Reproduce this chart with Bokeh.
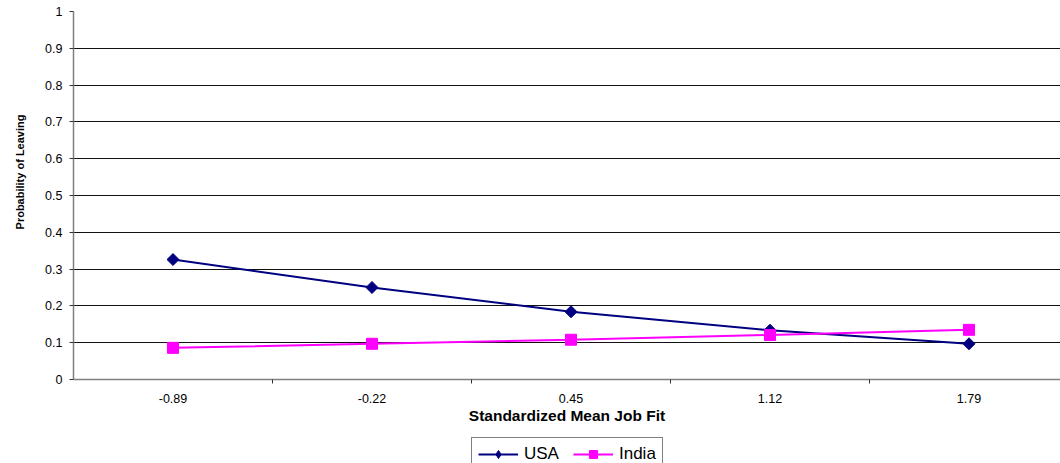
import math
from bokeh.plotting import figure
from bokeh.models import Range1d, FixedTicker, Label, Legend
from bokeh.layouts import row, column
from bokeh.embed import file_html
from bokeh.resources import INLINE

categories = ["-0.89", "-0.22", "0.45", "1.12", "1.79"]
usa = [0.326, 0.250, 0.184, 0.134, 0.097]
india = [0.086, 0.097, 0.108, 0.121, 0.135]
y_ticks = [0, 0.1, 0.2, 0.3, 0.4, 0.5, 0.6, 0.7, 0.8, 0.9, 1]
x_title = "Standardized Mean Job Fit"
y_title = "Probability of Leaving"
series_names = ["USA", "India"]
series_colors = ["#000080", "#FF00FF"]

FONT = "Liberation Sans"
W, H = 1060, 463
TITLE_W = 40          # strip holding the y-axis title
LEG_H = 28            # strip holding the legend
MAIN_W, MAIN_H = W - TITLE_W, H - LEG_H
LEFT, TOP = 33, 11
BOTTOM = MAIN_H - 379
cat_px = 199.0
frame_w = MAIN_W - LEFT

xs = [i + 0.5 for i in range(len(categories))]

p = figure(width=MAIN_W, height=MAIN_H, output_backend="svg", toolbar_location=None,
           x_range=Range1d(0, frame_w / cat_px), y_range=Range1d(0, 1),
           min_border_left=LEFT, min_border_top=TOP, min_border_bottom=BOTTOM,
           min_border_right=0)
p.outline_line_color = None
p.background_fill_color = "white"
p.border_fill_color = "white"

# axes
p.xaxis.ticker = FixedTicker(ticks=xs, minor_ticks=[1, 2, 3, 4])
p.xaxis.major_label_overrides = {x: c for x, c in zip(xs, categories)}
p.xaxis.major_tick_out = 0
p.xaxis.major_tick_in = 0
p.xaxis.minor_tick_out = 4
p.xaxis.minor_tick_in = 0
p.xaxis.minor_tick_line_color = "#333333"
p.xaxis.axis_line_color = "#808080"
p.xaxis.axis_line_width = 1.5
p.xaxis.major_label_standoff = 10
p.xaxis.major_label_text_font = FONT
p.xaxis.major_label_text_font_size = "12.5px"
p.xaxis.major_label_text_color = "black"
p.xaxis.axis_label = x_title
p.xaxis.axis_label_text_font = FONT
p.xaxis.axis_label_text_font_style = "bold"
p.xaxis.axis_label_text_font_size = "15.5px"
p.xaxis.axis_label_text_color = "black"
p.xaxis.axis_label_standoff = 1

p.yaxis.ticker = FixedTicker(ticks=y_ticks)
p.yaxis.major_label_overrides = {0: "0", 1: "1"}
p.yaxis.major_tick_out = 4
p.yaxis.major_tick_in = 0
p.yaxis.minor_tick_line_color = None
p.yaxis.major_tick_line_color = "#333333"
p.yaxis.axis_line_color = "#808080"
p.yaxis.axis_line_width = 1.5
p.yaxis.major_label_standoff = 7
p.yaxis.major_label_text_font = FONT
p.yaxis.major_label_text_font_size = "12.5px"
p.yaxis.major_label_text_color = "black"

p.xgrid.grid_line_color = None
p.ygrid.grid_line_color = "#111111"
p.ygrid.grid_line_width = 1

# series
l1 = p.line(xs, usa, line_color=series_colors[0], line_width=2)
m1 = p.scatter(xs, usa, marker="square", angle=math.pi / 4, size=8.5,
               fill_color=series_colors[0], line_color=series_colors[0])
l2 = p.line(xs, india, line_color=series_colors[1], line_width=2)
m2 = p.scatter(xs, india, marker="square", size=11,
               fill_color=series_colors[1], line_color=series_colors[1])


def blank(width, height):
    f = figure(width=width, height=height, output_backend="svg", toolbar_location=None,
               x_range=Range1d(0, 1), y_range=Range1d(0, 1),
               min_border=0, x_axis_location=None, y_axis_location=None)
    f.outline_line_color = None
    f.xgrid.grid_line_color = None
    f.ygrid.grid_line_color = None
    f.background_fill_color = "white"
    f.border_fill_color = "white"
    return f


# y-axis title strip
tfig = blank(TITLE_W, MAIN_H)
tfig.add_layout(Label(x=19, y=MAIN_H - 172.5 - 55, x_units="screen", y_units="screen",
                      text=y_title, angle=math.pi / 2,
                      text_align="center", text_baseline="middle",
                      text_font=FONT, text_font_style="bold", text_font_size="11px",
                      text_color="black"))

# legend strip (legend glyphs come from proxy renderers, with the same styles,
# whose points lie outside the strip's ranges)
lfig = blank(W, LEG_H)
off = [-10.0, -9.0]
pl1 = lfig.line(x=off, y=off, line_color=series_colors[0], line_width=2)
pm1 = lfig.scatter(x=off, y=off, marker="diamond", size=10,
                   fill_color=series_colors[0], line_color=series_colors[0])
pl2 = lfig.line(x=off, y=off, line_color=series_colors[1], line_width=2)
pm2 = lfig.scatter(x=off, y=off, marker="square", size=8,
                   fill_color=series_colors[1], line_color=series_colors[1])
leg_h = 32
legend = Legend(items=[(series_names[0], [pl1, pm1]), (series_names[1], [pl2, pm2])],
                orientation="horizontal",
                location=(471, LEG_H - (439 - MAIN_H) - leg_h),
                border_line_color="black", border_line_width=1,
                background_fill_color="white", background_fill_alpha=1,
                padding=6, spacing=14, margin=0,
                glyph_width=40, glyph_height=20, label_standoff=6,
                label_text_font=FONT, label_text_font_size="17px",
                label_text_color="black", label_height=20)
lfig.add_layout(legend, "center")

layout = column(row(tfig, p, spacing=0), lfig, spacing=0)
open("out.html", "w").write(file_html(layout, INLINE))
